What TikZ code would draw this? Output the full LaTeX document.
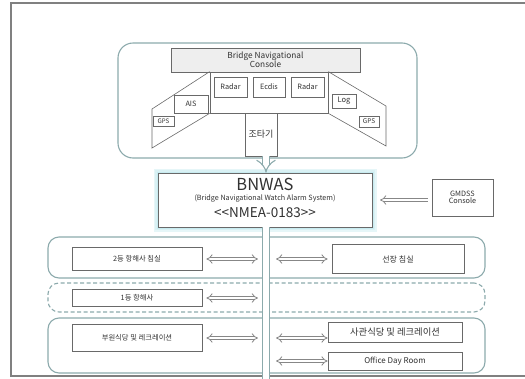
\documentclass[tikz,border=0pt]{standalone}
\usepackage{fontspec}
\setmainfont{Noto Sans CJK KR}
\usetikzlibrary{arrows.meta}
\definecolor{frameteal}{RGB}{140,170,172}
\definecolor{boxgray}{RGB}{105,105,105}
\definecolor{arrgray}{RGB}{135,135,135}
\definecolor{txt}{RGB}{50,50,50}
\definecolor{glow}{RGB}{200,235,240}
\begin{document}
\begin{tikzpicture}[x=1pt,y=-1pt,
  box/.style={draw=boxgray, line width=0.7pt, fill=white, text=txt, inner sep=0pt, align=center},
  grp/.style={draw=frameteal, line width=1.1pt, rounded corners=11pt, inner sep=0pt},
  dar/.style={draw=arrgray, line width=0.8pt, double=white, double distance=2.4pt, {Implies}-{Implies}},
  sar/.style={draw=arrgray, line width=0.8pt, double=white, double distance=2.4pt, -{Implies}},
  bus/.style={draw=frameteal, line width=1.1pt, double=white, double distance=5.8pt},
  fs/.style={font=\fontsize{#1}{#1}\selectfont}]
\useasboundingbox (0,0) rectangle (525,378);
\clip (0,0) rectangle (525,378);
% outer frame
\draw[draw=gray, line width=1.2pt] (11,3) rectangle (540,376);

% bridge group
\node[grp, minimum width=299pt, minimum height=115pt, rounded corners=15pt] (bridge) at (267.5,100.5) {};
\node[box, fill=gray!13, minimum width=189pt, minimum height=24pt, fs=8.3, text depth=0pt] (console) at (265.5,60) {Bridge Navigational\\[-1pt]Console};
\node[box, minimum width=118pt, minimum height=41pt] (center) at (269,92.5) {};
% wings
\draw[draw=boxgray, line width=0.6pt] (center.north west) -- (152,109) -- (152,148) -- (center.south west);
\draw[draw=boxgray, line width=0.6pt] (center.north east) -- (386,106) -- (386,146) -- (center.south east);
\node[box, minimum width=33pt, minimum height=20pt, fs=7.3] (radar1) at (230.5,87) {Radar};
\node[box, minimum width=32pt, minimum height=20pt, fs=7.3] (ecdis) at (269,87) {Ecdis};
\node[box, minimum width=33pt, minimum height=20pt, fs=7.3] (radar2) at (307.5,87) {Radar};
\node[box, minimum width=34pt, minimum height=18pt, fs=7.3] (ais) at (191,104) {AIS};
\node[box, minimum width=21pt, minimum height=10pt, fs=6.2] (gpsl) at (163.5,121.5) {GPS};
\node[box, minimum width=24pt, minimum height=14pt, fs=7.5] (log) at (344,101) {Log};
\node[box, minimum width=20pt, minimum height=11pt, fs=6.5] (gpsr) at (369,121.5) {GPS};
\node[box, minimum width=32pt, minimum height=43pt, fs=9] (steer) at (261,134.5) {조타기};

% BNWAS
\foreach \w/\c in {9/glow!45, 6/glow!70, 3/glow}
  \draw[draw=\c, line width=\w pt] (158,173) rectangle (372,227);
\node[box, minimum width=214pt, minimum height=54pt] (bnwas) at (265,200) {};
\node[fs=16.5, text=txt, inner sep=0pt] (t1) at (265,184.5) {BNWAS};
\node[fs=7.2, text=txt, inner sep=0pt] (t2) at (265,198.5) {(Bridge Navigational Watch Alarm System)};
\node[fs=13.5, text=txt, inner sep=0pt] (t3) at (265,212.5) {{<}{<}NMEA-0183{>}{>}};
\node[box, minimum width=61pt, minimum height=37pt, fs=7.3] (gmdss) at (462.5,197.5) {GMDSS\\Console};

% rows
\node[grp, minimum width=437pt, minimum height=41pt] (row1) at (266.5,257.5) {};
\node[grp, dashed, dash pattern=on 4pt off 2.5pt, minimum width=437pt, minimum height=29pt] (row2) at (266.5,297.5) {};
\node[grp, minimum width=437pt, minimum height=55pt] (row3) at (266.5,345.5) {};

\node[box, minimum width=130pt, minimum height=23pt, fs=7.3] (sec) at (137,259) {2등 항해사 침실};
\node[box, minimum width=132pt, minimum height=29pt, fs=8] (capt) at (398,259) {선장 침실};
\node[box, minimum width=130pt, minimum height=17pt, fs=7.3] (first) at (137,298) {1등 항해사};
\node[box, minimum width=130pt, minimum height=27pt, fs=7.3] (crew) at (137,338) {부원식당 및 레크레이션};
\node[box, minimum width=134pt, minimum height=20pt, fs=9.3] (offm) at (395,332) {사관식당 및 레크레이션};
\node[box, minimum width=134pt, minimum height=18pt, fs=8] (office) at (395,361) {Office Day Room};

% bus
\coordinate (bustop) at (266,227);
\coordinate (busbot) at (266,390);
\coordinate (busL) at (258,0);
\coordinate (busR) at (276,0);
\draw[bus] (bustop) -- (busbot);
\draw[bus, -{Implies}] (steer.south -| bustop) -- (bustop |- bnwas.north);
\draw[sar] ([xshift=-4pt]gmdss.west |- bnwas.east) -- (bnwas.east -| 380,0);

% connectors
\draw[dar] ([xshift=4pt]sec.east) -- (sec.east -| busL);
\draw[dar] (sec.east -| busR) -- ([xshift=-4pt]capt.west |- sec.east);
\draw[dar] ([xshift=4pt]first.east) -- (first.east -| busL);
\draw[dar] ([xshift=4pt]crew.east) -- (crew.east -| busL);
\draw[dar] (crew.east -| busR) -- (offm.west |- crew.east);
\draw[dar] (office.west -| busR) -- (office.west);
\end{tikzpicture}
\end{document}
